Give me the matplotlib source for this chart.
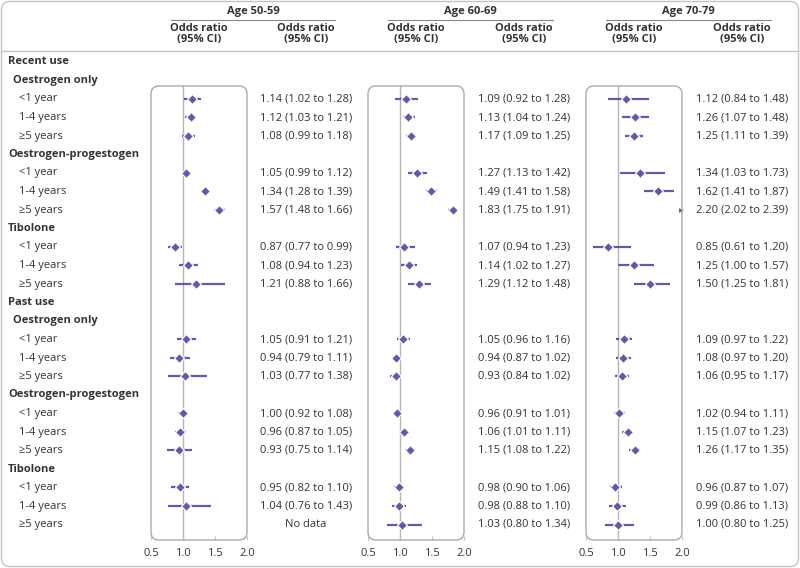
import numpy as np
import matplotlib
matplotlib.use("Agg")
import matplotlib.pyplot as plt
from matplotlib.patches import FancyBboxPatch
from matplotlib.lines import Line2D

plt.rcParams['font.family'] = ['Open Sans', 'DejaVu Sans']

# ---- data ----
row_labels = ["Recent use", "Oestrogen only", "<1 year", "1-4 years", "≥5 years",
              "Oestrogen-progestogen", "<1 year", "1-4 years", "≥5 years",
              "Tibolone", "<1 year", "1-4 years", "≥5 years",
              "Past use", "Oestrogen only", "<1 year", "1-4 years", "≥5 years",
              "Oestrogen-progestogen", "<1 year", "1-4 years", "≥5 years",
              "Tibolone", "<1 year", "1-4 years", "≥5 years"]
row_levels = [0, 1, 2, 2, 2, 1, 2, 2, 2, 1, 2, 2, 2,
              0, 1, 2, 2, 2, 1, 2, 2, 2, 1, 2, 2, 2]

age_groups = ["Age 50-59", "Age 60-69", "Age 70-79"]

or_50 = [1.14, 1.12, 1.08, 1.05, 1.34, 1.57, 0.87, 1.08, 1.21,
         1.05, 0.94, 1.03, 1.00, 0.96, 0.93, 0.95, 1.04, np.nan]
lo_50 = [1.02, 1.03, 0.99, 0.99, 1.28, 1.48, 0.77, 0.94, 0.88,
         0.91, 0.79, 0.77, 0.92, 0.87, 0.75, 0.82, 0.76, np.nan]
hi_50 = [1.28, 1.21, 1.18, 1.12, 1.39, 1.66, 0.99, 1.23, 1.66,
         1.21, 1.11, 1.38, 1.08, 1.05, 1.14, 1.10, 1.43, np.nan]

or_60 = [1.09, 1.13, 1.17, 1.27, 1.49, 1.83, 1.07, 1.14, 1.29,
         1.05, 0.94, 0.93, 0.96, 1.06, 1.15, 0.98, 0.98, 1.03]
lo_60 = [0.92, 1.04, 1.09, 1.13, 1.41, 1.75, 0.94, 1.02, 1.12,
         0.96, 0.87, 0.84, 0.91, 1.01, 1.08, 0.90, 0.88, 0.80]
hi_60 = [1.28, 1.24, 1.25, 1.42, 1.58, 1.91, 1.23, 1.27, 1.48,
         1.16, 1.02, 1.02, 1.01, 1.11, 1.22, 1.06, 1.10, 1.34]

or_70 = [1.12, 1.26, 1.25, 1.34, 1.62, 2.20, 0.85, 1.25, 1.50,
         1.09, 1.08, 1.06, 1.02, 1.15, 1.26, 0.96, 0.99, 1.00]
lo_70 = [0.84, 1.07, 1.11, 1.03, 1.41, 2.02, 0.61, 1.00, 1.25,
         0.97, 0.97, 0.95, 0.94, 1.07, 1.17, 0.87, 0.86, 0.80]
hi_70 = [1.48, 1.48, 1.39, 1.73, 1.87, 2.39, 1.20, 1.57, 1.81,
         1.22, 1.20, 1.17, 1.11, 1.23, 1.35, 1.07, 1.13, 1.25]

panels = [(or_50, lo_50, hi_50), (or_60, lo_60, hi_60), (or_70, lo_70, hi_70)]
xticks = [0.5, 1.0, 1.5, 2.0]

# ---- layout (pixels, y from top) ----
W, H = 800, 568
PURPLE = "#6a55a8"
TXT = "#333333"
GREY = "#c4c4c4"
FS = 8

def fx(px): return px / W
def fy(py): return 1 - py / H

row_y0, row_dy = 62, 18.5
box_top, box_bot = 86, 540
box_left = [151, 368, 586]
box_w = 96
text_cx = [306, 524, 742]
head_l = [171, 388, 606]
head_r = [335, 553, 771]

fig = plt.figure(figsize=(8, 5.68), dpi=100)

# outer border + header line
fig.add_artist(FancyBboxPatch((0.015, 0.015), 7.97, 5.65, boxstyle="round,pad=0,rounding_size=0.08",
                              transform=fig.dpi_scale_trans, fc="none", ec=GREY, lw=1))
fig.add_artist(Line2D([fx(2), fx(798)], [fy(51), fy(51)], color=GREY, lw=1))

# row labels (the original only indents "Oestrogen only")
data_rows = [i for i, lv in enumerate(row_levels) if lv == 2]
for i, (lab, lv) in enumerate(zip(row_labels, row_levels)):
    if lv == 2:
        x = 19
    elif lab == "Oestrogen only":
        x = 13
    else:
        x = 8
    fig.text(fx(x), fy(row_y0 + row_dy * i), lab, ha="left", va="center", fontsize=FS,
             color=TXT, fontweight="bold" if lv < 2 else "normal")

i_top = (box_top - row_y0) / row_dy
i_bot = (box_bot - row_y0) / row_dy

for k, (est, lo, hi) in enumerate(panels):
    # header
    cx_box = box_left[k] + box_w / 2
    fig.text(fx((head_l[k] + head_r[k]) / 2), fy(11.5), age_groups[k], ha="center", va="center",
             fontsize=FS, fontweight="bold", color=TXT)
    fig.add_artist(Line2D([fx(head_l[k]), fx(head_r[k])], [fy(20), fy(20)], color="#888888", lw=0.8))
    for cx in (cx_box, text_cx[k]):
        fig.text(fx(cx), fy(34), "Odds ratio\n(95% CI)", ha="center", va="center",
                 fontsize=FS, fontweight="bold", color=TXT, linespacing=1.05)

    ax = fig.add_axes([fx(box_left[k]), fy(box_bot), box_w / W, (box_bot - box_top) / H])
    ax.set_xlim(0.5, 2.0)
    ax.set_ylim(i_bot, i_top)
    for s in ax.spines.values():
        s.set_visible(False)
    ax.patch.set_visible(False)
    ax.set_yticks([])
    ax.set_xticks(xticks)
    ax.set_xticklabels([f"{t:.1f}" for t in xticks])
    ax.tick_params(axis="x", direction="in", length=3, color=GREY, labelsize=FS,
                   labelcolor=TXT, pad=6)
    ax.axvline(1.0, color="#b5b5b5", lw=1, zorder=1)

    fig.add_artist(FancyBboxPatch((box_left[k] / 100, (H - box_bot) / 100), box_w / 100,
                                  (box_bot - box_top) / 100,
                                  boxstyle="round,pad=0,rounding_size=0.08",
                                  transform=fig.dpi_scale_trans, fc="none", ec="#aaaaaa", lw=1))

    for j, r in enumerate(data_rows):
        y = r
        yp = row_y0 + row_dy * r
        if np.isnan(est[j]):
            fig.text(fx(text_cx[k]), fy(yp), "No data", ha="center", va="center",
                     fontsize=FS, color=TXT)
            continue
        fig.text(fx(text_cx[k]), fy(yp), f"{est[j]:.2f} ({lo[j]:.2f} to {hi[j]:.2f})",
                 ha="center", va="center", fontsize=FS, color=TXT)
        if lo[j] >= 2.0:
            # whole interval off the scale: small arrowhead at the right edge
            ax.plot([1.985], [y], marker=">", ms=3.5, color=PURPLE, mec="none",
                    clip_on=False, zorder=3)
            continue
        ax.plot([lo[j], min(hi[j], 2.0)], [y, y], color=PURPLE, lw=1.6,
                solid_capstyle="butt", zorder=2)
        ax.plot([est[j]], [y], marker="D", ms=5, color=PURPLE, mec="white", mew=0.9, zorder=3)

fig.savefig("out.png", dpi=100)
